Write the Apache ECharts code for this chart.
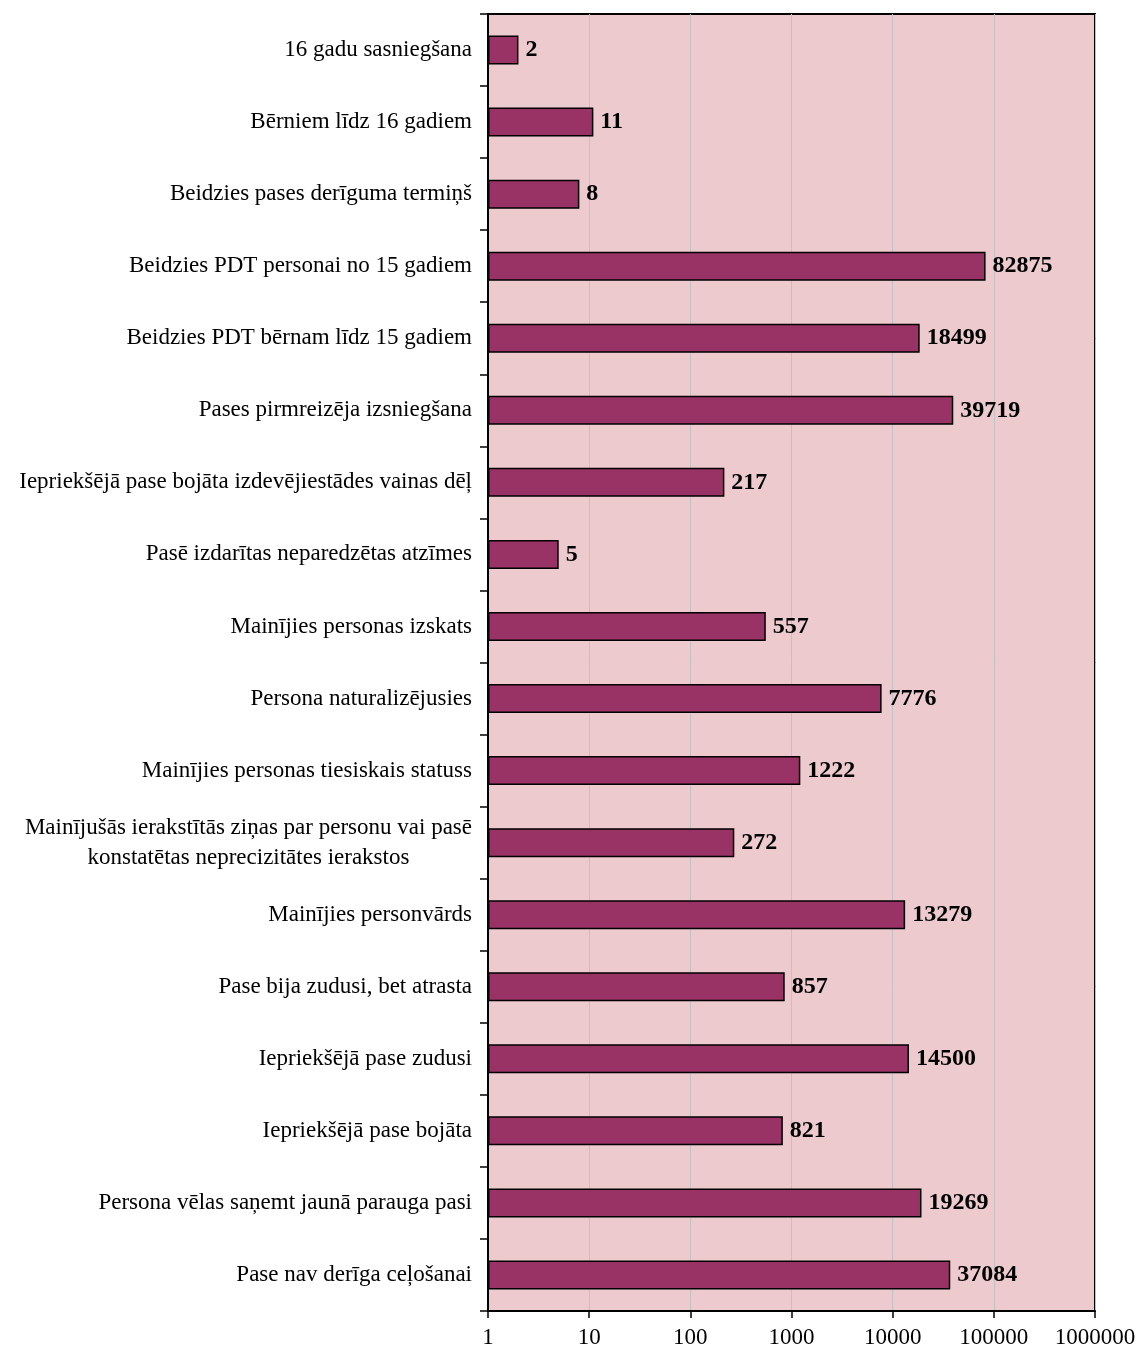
<!DOCTYPE html>
<html><head><meta charset="utf-8">
<script src="https://cdn.jsdelivr.net/npm/echarts@6/dist/echarts.min.js"></script>
<style>html,body{margin:0;padding:0;background:#fff}#c{width:1141px;height:1357px}</style>
</head><body><div id="c"></div>
<script>
const categories = [
  "16 gadu sasniegšana",
  "Bērniem līdz 16 gadiem",
  "Beidzies pases derīguma termiņš",
  "Beidzies PDT personai no 15 gadiem",
  "Beidzies PDT bērnam līdz 15 gadiem",
  "Pases pirmreizēja izsniegšana",
  "Iepriekšējā pase bojāta izdevējiestādes vainas dēļ",
  "Pasē izdarītas neparedzētas atzīmes",
  "Mainījies personas izskats",
  "Persona naturalizējusies",
  "Mainījies personas tiesiskais statuss",
  "Mainījušās ierakstītās ziņas par personu vai pasē\nkonstatētas neprecizitātes ierakstos",
  "Mainījies personvārds",
  "Pase bija zudusi, bet atrasta",
  "Iepriekšējā pase zudusi",
  "Iepriekšējā pase bojāta",
  "Persona vēlas saņemt jaunā parauga pasi",
  "Pase nav derīga ceļošanai"
];
const values = [2, 11, 8, 82875, 18499, 39719, 217, 5, 557, 7776, 1222, 272, 13279, 857, 14500, 821, 19269, 37084];
const xTicks = [1, 10, 100, 1000, 10000, 100000, 1000000];

const chart = echarts.init(document.getElementById('c'), null, {renderer: 'canvas'});
const serif = '"Liberation Serif", "Times New Roman", serif';
chart.setOption({
  animation: false,
  grid: {left: 488, right: 46, top: 14, bottom: 46, show: true, backgroundColor: '#edcacd', borderColor: '#000', borderWidth: 2},
  xAxis: {
    type: 'log', logBase: 10, min: xTicks[0], max: xTicks[xTicks.length - 1],
    axisLine: {show: true, lineStyle: {color: '#000', width: 2}},
    axisTick: {show: true, length: 7, lineStyle: {color: '#000', width: 1.5}},
    splitLine: {show: true, lineStyle: {color: '#c2c2c6', width: 1}},
    axisLabel: {color: '#000', fontFamily: serif, fontSize: 23, margin: 15, formatter: v => String(Math.round(v))}
  },
  yAxis: {
    type: 'category', inverse: true, data: categories,
    axisLine: {show: true, lineStyle: {color: '#000', width: 2}},
    axisTick: {show: true, length: 8, lineStyle: {color: '#000', width: 1.5}},
    axisLabel: {
      color: '#000', fontFamily: serif, fontSize: 23, margin: 16, lineHeight: 30, interval: 0,
      formatter: v => v.split('\n').map(l => '{c|' + l + '}').join('\n'),
      rich: {c: {align: 'center', fontFamily: serif, fontSize: 23, color: '#000', lineHeight: 30}}
    }
  },
  series: [{
    type: 'bar', data: values, barWidth: 29,
    itemStyle: {color: '#993366', borderColor: '#000', borderWidth: 1.5},
    label: {show: true, position: 'right', distance: 7, color: '#000', fontFamily: serif, fontWeight: 'bold', fontSize: 24}
  }]
});
</script></body></html>
